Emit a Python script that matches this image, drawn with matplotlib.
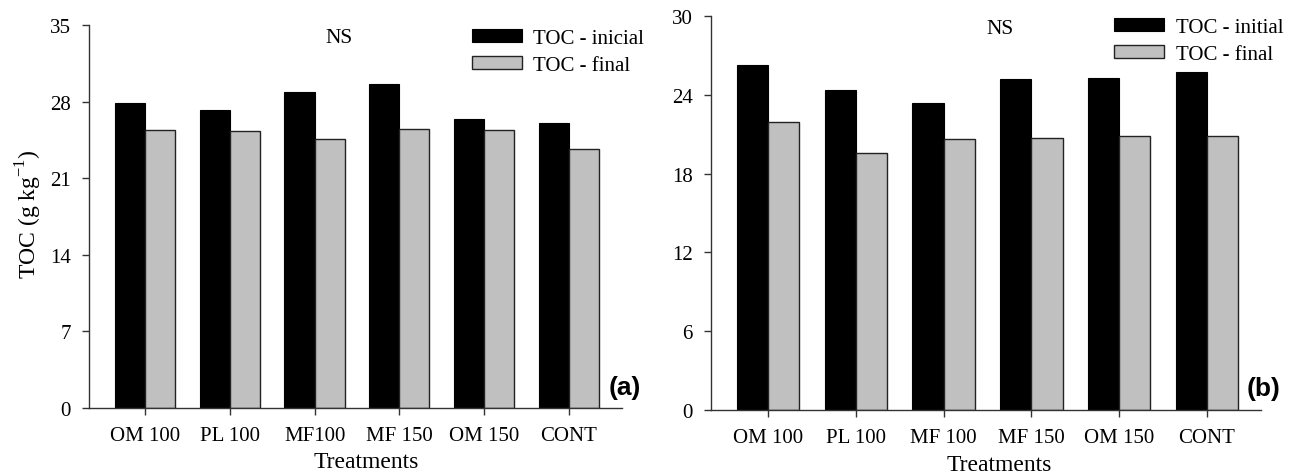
"""
TOC before/after incubation, two soils side by side: panel (a) and panel (b).
Grouped bars (initial = black, final = gray), values read off the reference.
"""

import matplotlib
matplotlib.use("Agg")
import matplotlib.pyplot as plt
import numpy as np

plt.rcParams["font.family"] = ["Liberation Serif", "DejaVu Serif"]
plt.rcParams["mathtext.fontset"] = "custom"
plt.rcParams["mathtext.rm"] = "Liberation Serif"

# ── data ──
treat_a = ["OM 100", "PL 100", "MF100", "MF 150", "OM 150", "CONT"]
toc_init_a = [27.9, 27.2, 28.9, 29.6, 26.4, 26.0]
toc_final_a = [25.4, 25.3, 24.6, 25.5, 25.4, 23.7]

treat_b = ["OM 100", "PL 100", "MF 100", "MF 150", "OM 150", "CONT"]
toc_init_b = [26.3, 24.4, 23.4, 25.2, 25.3, 25.7]
toc_final_b = [21.9, 19.6, 20.6, 20.7, 20.9, 20.9]

yticks_a = [0, 7, 14, 21, 28, 35]
yticks_b = [0, 6, 12, 18, 24, 30]

W, H = 1299, 477
fig = plt.figure(figsize=(W / 100, H / 100), dpi=100)


def px_axes(left, right, top, bottom):
    return fig.add_axes([left / W, (H - bottom) / H, (right - left) / W, (bottom - top) / H])


def panel(ax, cats, init, final, yticks, xlim, leg_labels, leg_anchor, tag, ns_xy, xlabel_x):
    x = np.arange(len(cats))
    w = 0.355
    ax.bar(x - w / 2, init, width=w, color="black", edgecolor="black", linewidth=0.8,
           label=leg_labels[0])
    ax.bar(x + w / 2, final, width=w, color="#c0c0c0", edgecolor="#222222", linewidth=1.0,
           label=leg_labels[1])
    ax.set_xlim(*xlim)
    ax.set_ylim(yticks[0], yticks[-1])
    ax.set_yticks(yticks)
    ax.set_xticks(x)
    ax.set_xticklabels(cats)
    for s in ("top", "right"):
        ax.spines[s].set_visible(False)
    for s in ("left", "bottom"):
        ax.spines[s].set_color("#333333")
        ax.spines[s].set_linewidth(1.0)
    ax.tick_params(axis="both", direction="out", length=5, width=1.0, color="#333333",
                   labelsize=15)
    ax.tick_params(axis="y", pad=8)
    ax.tick_params(axis="x", pad=8)
    ax.set_xlabel("Treatments", fontsize=17)
    ax.xaxis.set_label_coords(xlabel_x, -0.112)
    ax.legend(loc="upper left", bbox_to_anchor=leg_anchor, frameon=False, fontsize=15,
              handlelength=2.4, handleheight=0.6, handletextpad=0.55, labelspacing=0.38,
              borderpad=0, borderaxespad=0)
    ax.text(*ns_xy, "NS", transform=ax.transAxes, ha="center", va="center", fontsize=15.5)
    ax.text(1.005, 0.055, tag, transform=ax.transAxes, ha="center", va="center",
            fontsize=19, fontweight="bold", family=["Liberation Sans", "DejaVu Sans"])


ax_a = px_axes(89, 622, 26, 409)
panel(ax_a, treat_a, toc_init_a, toc_final_a, yticks_a, (-0.66, 5.625),
      ("TOC - inicial", "TOC - final"), (0.718, 0.99), "(a)", (0.47, 0.967), 0.521)
ax_a.set_ylabel("TOC (g kg$^{\\mathregular{-1}}$)", fontsize=17)
ax_a.yaxis.set_label_coords(-0.085, 0.51)

ax_b = px_axes(711, 1261, 17, 411)
panel(ax_b, treat_b, toc_init_b, toc_final_b, yticks_b, (-0.65, 5.615),
      ("TOC - initial", "TOC - final"), (0.733, 0.995), "(b)", (0.525, 0.968), 0.524)

fig.savefig("out.png", dpi=100)
